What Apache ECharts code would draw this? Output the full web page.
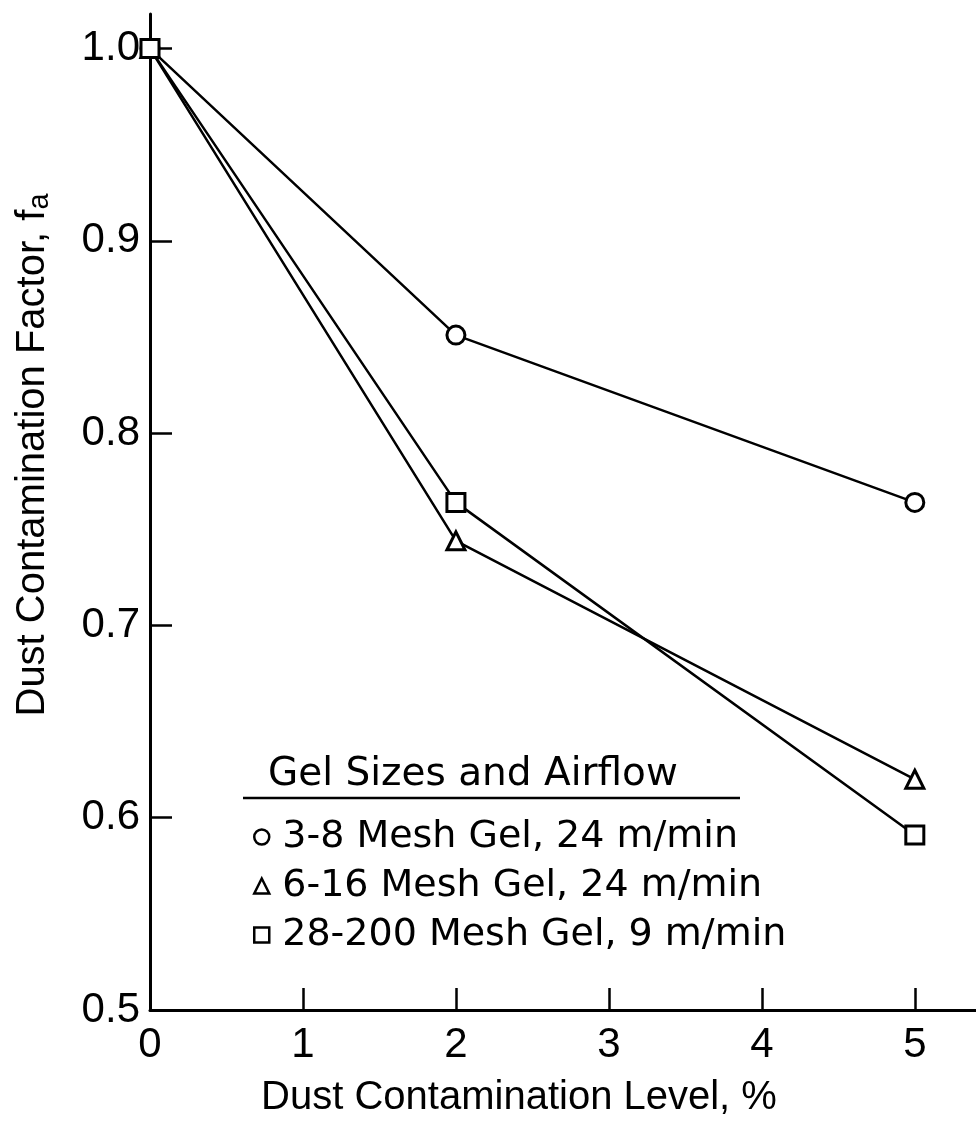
<!DOCTYPE html>
<html>
<head>
<meta charset="utf-8">
<script src="https://cdn.jsdelivr.net/npm/echarts@6/dist/echarts.min.js"></script>
<style>
html,body{margin:0;padding:0;background:#fff;}
#chart{width:976px;height:1125px;}
</style>
</head>
<body>
<div id="chart"></div>
<script>
const xLevels = [0, 2, 5];
const mesh3_8 = [1.0, 0.851, 0.764];
const mesh6_16 = [1.0, 0.744, 0.620];
const mesh28_200 = [1.0, 0.764, 0.591];
const seriesNames = ['3-8 Mesh Gel, 24 m/min', '6-16 Mesh Gel, 24 m/min', '28-200 Mesh Gel, 9 m/min'];
const xTicks = [0, 1, 2, 3, 4, 5];
const yTicks = [0.5, 0.6, 0.7, 0.8, 0.9, 1.0];
const legendTitle = 'Gel Sizes and Airflow';
const xName = 'Dust Contamination Level, %';

const FONT = '"Liberation Sans", Arial, sans-serif';
const LFONT = '"DejaVu Sans", sans-serif';
const zip = v => xLevels.map((x, i) => [x, v[i]]);
const symbols = ['circle', 'triangle', 'rect'];
const values = [mesh3_8, mesh6_16, mesh28_200];

const chart = echarts.init(document.getElementById('chart'), null, {renderer: 'canvas'});
chart.setOption({
  animation: false,
  backgroundColor: '#fff',
  grid: {left: 150, top: 14, right: 0, bottom: 115, containLabel: false, outerBoundsMode: 'none'},
  xAxis: {
    type: 'value', min: 0, max: 5.4, interval: 1,
    name: xName, nameLocation: 'middle', nameGap: 68,
    nameTextStyle: {fontFamily: FONT, fontSize: 40, color: '#000', padding: [0, 88, 0, 0]},
    axisLine: {lineStyle: {color: '#000', width: 3}},
    axisTick: {inside: true, length: 22, lineStyle: {color: '#000', width: 2.5}, customValues: xTicks},
    axisLabel: {fontFamily: FONT, fontSize: 42, color: '#000', margin: 14, customValues: xTicks},
    splitLine: {show: false}
  },
  yAxis: {
    type: 'value', min: 0.5, max: 1.018, interval: 0.1,
    axisLine: {lineStyle: {color: '#000', width: 3}},
    axisTick: {inside: true, length: 22, lineStyle: {color: '#000', width: 2.5}, customValues: yTicks},
    axisLabel: {fontFamily: FONT, fontSize: 42, color: '#000', margin: 10, customValues: yTicks,
      formatter: v => v.toFixed(1)},
    splitLine: {show: false}
  },
  legend: {
    left: 248, top: 813, orient: 'vertical',
    itemWidth: 15, itemHeight: 15, itemGap: 11,
    data: seriesNames.map((n, i) => ({name: n, icon: symbols[i]})),
    itemStyle: {color: '#fff', borderColor: '#000', borderWidth: 2.5},
    textStyle: {fontFamily: LFONT, fontSize: 38, lineHeight: 36, color: '#000', padding: [0, 0, 0, 8]},
    selectedMode: false
  },
  graphic: [
    {type: 'text', left: 268, top: 755, style: {text: legendTitle, font: '39px ' + LFONT, fill: '#000'}},
    {type: 'line', shape: {x1: 243, y1: 798, x2: 740, y2: 798}, style: {stroke: '#000', lineWidth: 2.5}},
    {type: 'text', x: 33, y: 455, rotation: Math.PI / 2,
      style: {text: 'Dust Contamination Factor, f{s|a}', font: '40px ' + FONT, fill: '#000',
        align: 'center', verticalAlign: 'middle',
        rich: {s: {fontSize: 29, fontFamily: FONT, padding: [14, 0, 0, 0]}}}}
  ],
  series: values.map((v, i) => ({
    name: seriesNames[i], type: 'line', data: zip(v),
    symbol: symbols[i], symbolSize: 18, showSymbol: true,
    itemStyle: {color: '#fff', borderColor: '#000', borderWidth: 3},
    lineStyle: {color: '#000', width: 2.5},
    emphasis: {disabled: true}, silent: true
  }))
});
</script>
</body>
</html>
